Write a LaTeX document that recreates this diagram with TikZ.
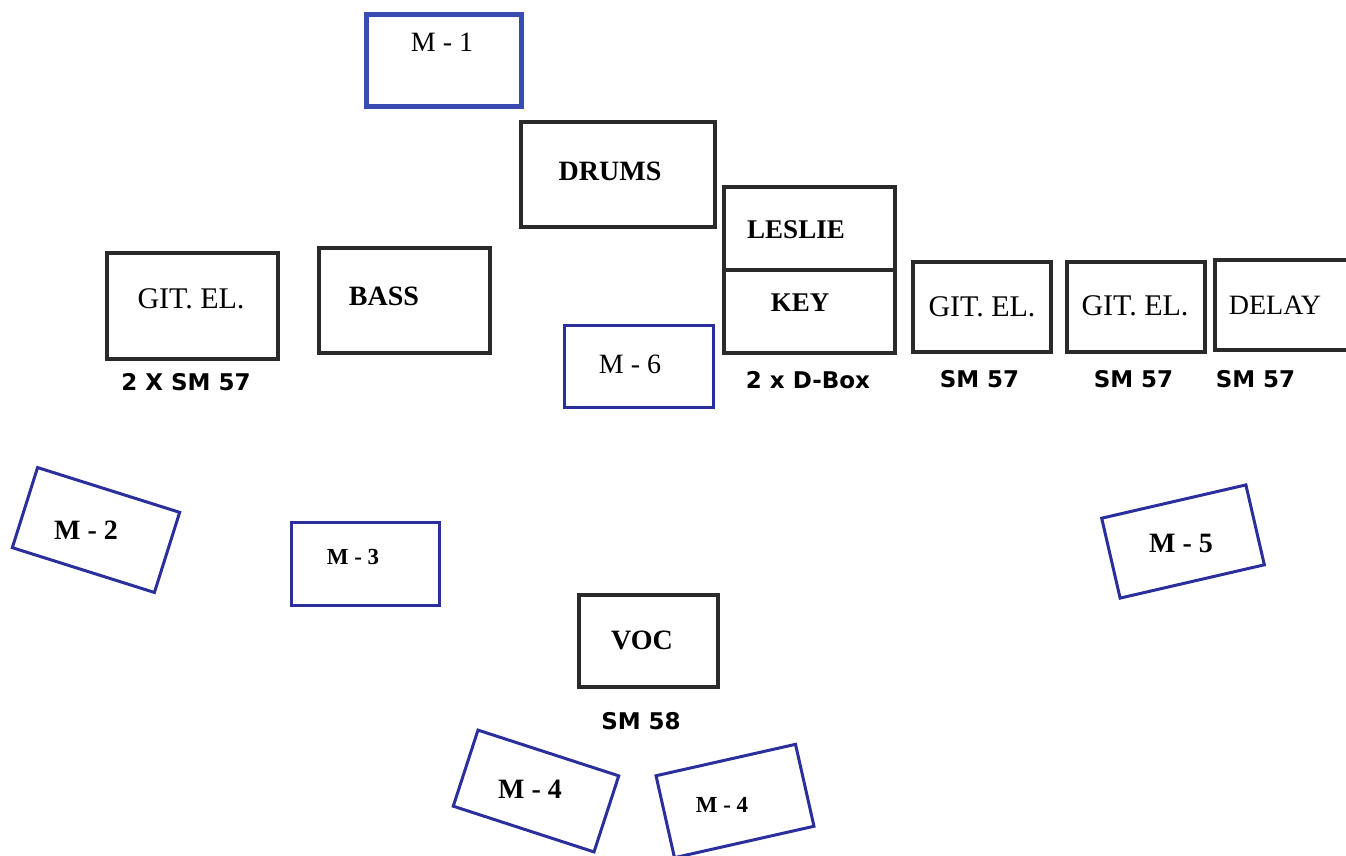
\documentclass[tikz,border=0pt]{standalone}
\usepackage{fontspec}
\setmainfont{Liberation Serif}
\newfontfamily\labelfont{DejaVu Sans}
\definecolor{boxblack}{HTML}{2A2A2A}
\definecolor{micblue}{HTML}{2B2F9C}
\definecolor{micblueA}{HTML}{3A4CB2}
\begin{document}
\begin{tikzpicture}[x=1pt,y=-1pt,
  amp/.style={draw=boxblack,line width=4pt,rectangle,inner sep=0pt},
  mon/.style={draw=micblue,line width=3pt,rectangle,inner sep=0pt},
  bigtxt/.style={font=\fontsize{28}{30}\selectfont\bfseries,inner sep=0pt},
  regtxt/.style={font=\fontsize{30}{32}\selectfont,inner sep=0pt},
  smalltxt/.style={font=\fontsize{23}{25}\selectfont\bfseries,inner sep=0pt},
  miclabel/.style={font=\labelfont\bfseries\fontsize{23}{25}\selectfont,inner sep=0pt}]
\useasboundingbox (0,0) rectangle (1346,855);
\clip (0,0) rectangle (1346,855);
% --- monitors and boxes ---
\node[mon,draw=micblueA,line width=5pt,minimum width=155pt,minimum height=92pt] (m1) at (444,60.5) {};
\node[amp,minimum width=194pt,minimum height=105pt] (drums) at (618,174.5) {};
\node[amp,minimum width=171pt,minimum height=83pt] (leslie) at (809.5,228.5) {};
\node[amp,minimum width=171pt,minimum height=83pt] (key) at (809.5,311.5) {};
\node[amp,minimum width=171pt,minimum height=106pt] (gitA) at (192.5,305.5) {};
\node[amp,minimum width=171pt,minimum height=105pt] (bass) at (404.5,300.5) {};
\node[mon,minimum width=149pt,minimum height=82pt] (m6) at (639,366.5) {};
\node[amp,minimum width=138pt,minimum height=90pt] (gitB) at (982,307) {};
\node[amp,minimum width=138pt,minimum height=90pt] (gitC) at (1136,307) {};
\node[amp,minimum width=136pt,minimum height=90pt] (delay) at (1283,305) {};
\node[mon,minimum width=148pt,minimum height=83pt] (m3) at (365.5,564) {};
\node[amp,minimum width=139pt,minimum height=92pt] (voc) at (648.5,641) {};
\node[mon,minimum width=149pt,minimum height=84pt,rotate=-17.5] (m2) at (96,530) {};
\node[mon,minimum width=148pt,minimum height=80pt,rotate=-18] (m4a) at (536,791) {};
\node[mon,minimum width=143pt,minimum height=84pt,rotate=12.7] (m4b) at (735,801) {};
\node[mon,minimum width=148pt,minimum height=82pt,rotate=13] (m5) at (1183,541.5) {};
% --- texts ---
\node[regtxt,font=\fontsize{28}{30}\selectfont] (m1t) at (442,42) {M - 1};
\node[bigtxt] (drumst) at (610,171) {DRUMS};
\node[bigtxt,font=\fontsize{27}{29}\selectfont\bfseries] (lesliet) at (796,230) {LESLIE};
\node[bigtxt,font=\fontsize{27}{29}\selectfont\bfseries] (keyt) at (800,303) {KEY};
\node[regtxt] (gitAt) at (191,299) {GIT. EL.};
\node[bigtxt] (basst) at (384,296) {BASS};
\node[regtxt,font=\fontsize{28}{30}\selectfont] (m6t) at (630,364) {M - 6};
\node[regtxt] (gitBt) at (982,307) {GIT. EL.};
\node[regtxt] (gitCt) at (1135,306) {GIT. EL.};
\node[regtxt,font=\fontsize{28}{30}\selectfont] (delayt) at (1275,305) {DELAY};
\node[bigtxt] (m2t) at (86,530) {M - 2};
\node[smalltxt] (m3t) at (353,557) {M - 3};
\node[bigtxt] (voct) at (642,640) {VOC};
\node[bigtxt] (m4at) at (530,789) {M - 4};
\node[smalltxt] (m4bt) at (722,805) {M - 4};
\node[bigtxt] (m5t) at (1181,543) {M - 5};
% --- microphone labels ---
\node[miclabel] (gitAm) at (186,382) {2 X SM 57};
\node[miclabel] (keym) at (808,380) {2 x D-Box};
\node[miclabel] (gitBm) at (979.5,379) {SM 57};
\node[miclabel] (gitCm) at (1133.5,379) {SM 57};
\node[miclabel] (delaym) at (1255.5,379) {SM 57};
\node[miclabel] (vocm) at (641,721) {SM 58};
\end{tikzpicture}
\end{document}
